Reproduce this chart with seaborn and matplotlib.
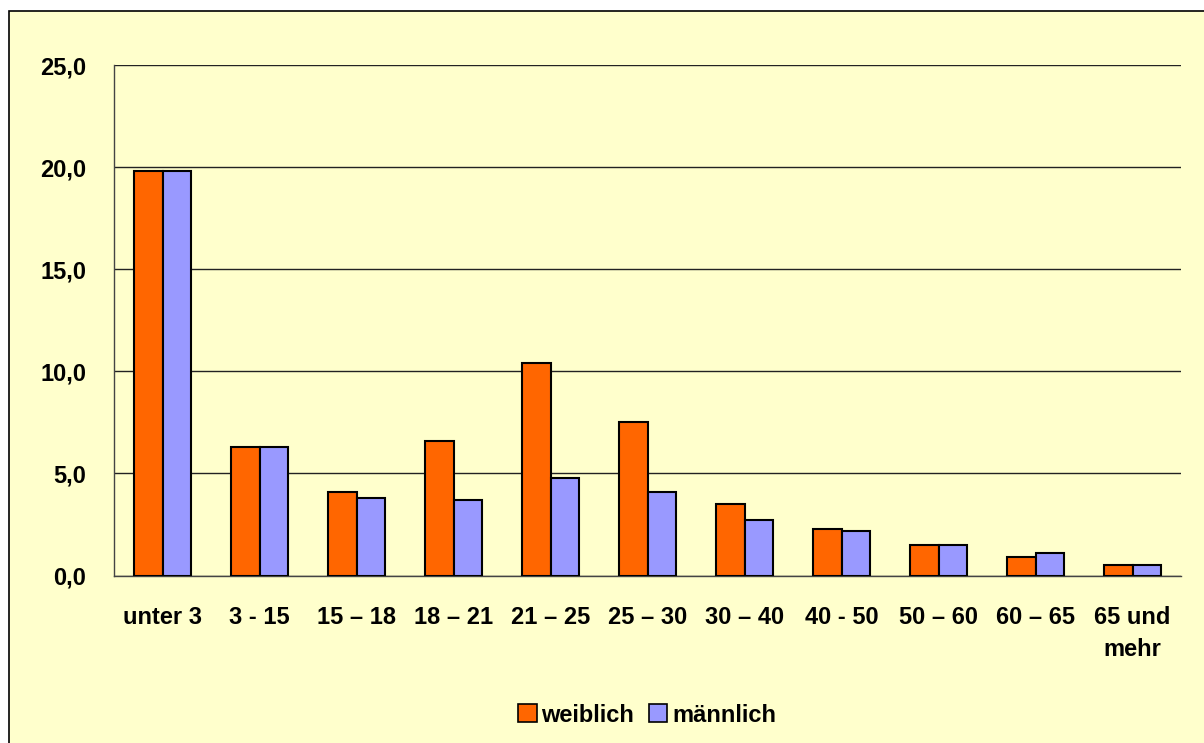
import pandas as pd
import matplotlib
matplotlib.use("Agg")
import matplotlib.pyplot as plt
import seaborn as sns
from matplotlib.patches import Rectangle
from matplotlib.ticker import FuncFormatter, FixedLocator

# data
categories = ["unter 3", "3 - 15", "15 \u2013 18", "18 \u2013 21", "21 \u2013 25", "25 \u2013 30",
              "30 \u2013 40", "40 - 50", "50 \u2013 60", "60 \u2013 65", "65 und\nmehr"]
weiblich = [19.8, 6.3, 4.1, 6.6, 10.4, 7.5, 3.5, 2.3, 1.5, 0.9, 0.5]
maennlich = [19.8, 6.3, 3.8, 3.7, 4.8, 4.1, 2.7, 2.2, 1.5, 1.1, 0.5]
series_names = ["weiblich", "m\u00e4nnlich"]
colors = ["#FF6600", "#9999FF"]
bg = "#FFFFCC"

df = pd.DataFrame({
    "Alter": categories * 2,
    "Anteil": weiblich + maennlich,
    "Geschlecht": [series_names[0]] * len(categories) + [series_names[1]] * len(categories),
})

sns.set_style("white")
plt.rcParams["font.family"] = ["Liberation Sans", "DejaVu Sans"]
plt.rcParams["font.weight"] = "bold"
plt.rcParams["text.color"] = "black"
plt.rcParams["xtick.color"] = "black"
plt.rcParams["ytick.color"] = "black"

fig = plt.figure(figsize=(12.04, 7.43), dpi=100)
fig.patch.set_facecolor("white")
# yellow chart area with black frame (cut off at right/bottom like the original)
fig.patches.append(Rectangle((9 / 1204, -0.05), 1.1, (743 - 11) / 743 + 0.05,
                             transform=fig.transFigure, facecolor=bg,
                             edgecolor="black", linewidth=1.2, zorder=-10))

ax = fig.add_axes([114 / 1204, (743 - 575.5) / 743, (1181 - 114) / 1204, (575.5 - 65.3) / 743])
ax.set_facecolor(bg)

sns.barplot(data=df, x="Alter", y="Anteil", hue="Geschlecht", palette=colors, saturation=1,
            width=0.58, edgecolor="black", linewidth=1.5, ax=ax, legend=False, zorder=3)

ax.set_ylim(0, 25)
ax.set_xlim(-0.5, len(categories) - 0.5)
ax.set_yticks([0, 5, 10, 15, 20, 25])
ax.yaxis.set_major_formatter(FuncFormatter(lambda v, p: f"{v:.1f}".replace(".", ",")))
ax.grid(axis="y", color="#222222", linewidth=1.0, zorder=1)
ax.set_axisbelow(True)

# category labels centred, ticks on the category boundaries
ax.set_xticks(range(len(categories)))
ax.set_xticklabels(categories, linespacing=1.5)
ax.tick_params(axis="x", which="major", length=0, pad=22, labelsize=17, labelcolor="black")
ax.xaxis.set_minor_locator(FixedLocator([i - 0.5 for i in range(len(categories) + 1)]))
ax.tick_params(axis="x", which="minor", length=6, width=1, color="#444444", direction="out")
ax.tick_params(axis="y", length=8, width=1, color="#444444", direction="out", pad=12,
               labelsize=17, labelcolor="black")
for lab in ax.get_xticklabels() + ax.get_yticklabels():
    lab.set_fontweight("bold")

for s in ["top", "right"]:
    ax.spines[s].set_visible(False)
for s in ["left", "bottom"]:
    ax.spines[s].set_color("#444444")
    ax.spines[s].set_linewidth(1.0)

ax.set_xlabel("")
ax.set_ylabel("")

handles = [Rectangle((0, 0), 1, 1, facecolor=c, edgecolor="black", linewidth=1.2) for c in colors]
fig.legend(handles, series_names, loc="center", bbox_to_anchor=(647 / 1204, (743 - 715) / 743),
           ncol=2, frameon=False, prop={"weight": "bold", "size": 17},
           handlelength=0.8, handleheight=0.8, handletextpad=0.2, columnspacing=0.6)

fig.savefig("out.png", dpi=100, facecolor=fig.get_facecolor())
